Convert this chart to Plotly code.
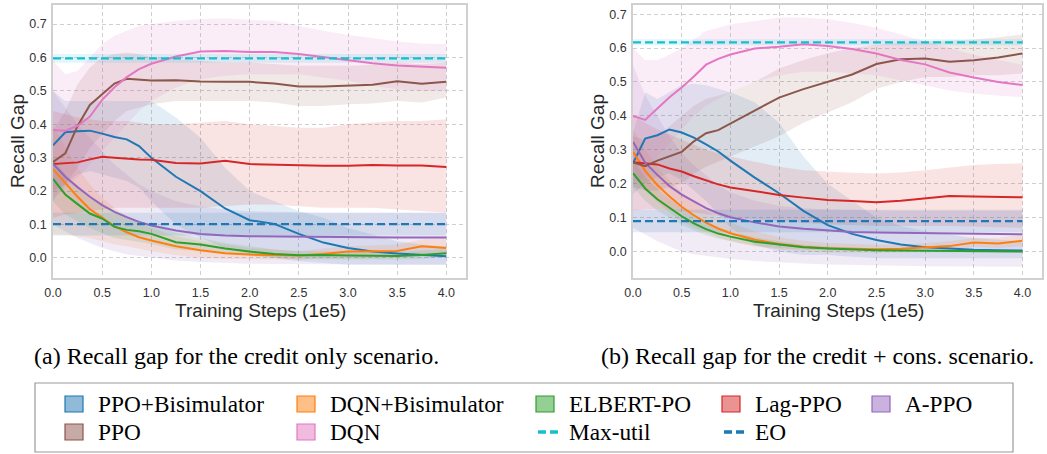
import plotly.graph_objects as go

W, H = 1047, 454

steps = [0, 0.125, 0.25, 0.375, 0.5, 0.625, 0.75, 0.875, 1.0, 1.25, 1.5, 1.75,
         2.0, 2.25, 2.5, 2.75, 3.0, 3.25, 3.5, 3.75, 4.0]
x_ticks = [0.0, 0.5, 1.0, 1.5, 2.0, 2.5, 3.0, 3.5, 4.0]
y_ticks = [0.0, 0.1, 0.2, 0.3, 0.4, 0.5, 0.6, 0.7]

# ---------------- (a) credit only ----------------
ppo_bisim_a = [0.337, 0.376, 0.379, 0.381, 0.372, 0.362, 0.355, 0.335, 0.300, 0.243, 0.200, 0.148, 0.113, 0.102, 0.072, 0.046, 0.030, 0.019, 0.013, 0.008, 0.005]
ppo_bisim_a_hi = [0.50, 0.47, 0.47, 0.47, 0.47, 0.47, 0.47, 0.47, 0.47, 0.42, 0.36, 0.27, 0.20, 0.17, 0.14, 0.12, 0.09, 0.07, 0.05, 0.04, 0.035]
ppo_bisim_a_lo = [0.17, 0.22, 0.25, 0.26, 0.25, 0.24, 0.23, 0.21, 0.17, 0.10, 0.06, 0.03, 0.01, 0.00, -0.01, -0.015, -0.02, -0.02, -0.02, -0.02, -0.02]

dqn_bisim_a = [0.266, 0.224, 0.183, 0.146, 0.120, 0.095, 0.077, 0.062, 0.052, 0.035, 0.023, 0.014, 0.010, 0.008, 0.007, 0.012, 0.019, 0.020, 0.021, 0.035, 0.030]
dqn_bisim_a_hi = [0.40, 0.33, 0.27, 0.22, 0.18, 0.15, 0.125, 0.105, 0.09, 0.065, 0.05, 0.04, 0.03, 0.025, 0.02, 0.028, 0.035, 0.038, 0.04, 0.055, 0.06]
dqn_bisim_a_lo = [0.07, 0.07, 0.065, 0.06, 0.05, 0.04, 0.035, 0.028, 0.02, 0.008, 0.0, -0.003, -0.005, -0.005, -0.005, -0.002, 0.0, 0.0, 0.0, 0.012, 0.01]

elbert_a = [0.237, 0.190, 0.161, 0.133, 0.118, 0.093, 0.084, 0.080, 0.072, 0.047, 0.040, 0.028, 0.019, 0.012, 0.008, 0.009, 0.007, 0.006, 0.006, 0.009, 0.014]
elbert_a_hi = [0.30, 0.25, 0.21, 0.18, 0.16, 0.135, 0.12, 0.11, 0.10, 0.075, 0.06, 0.045, 0.035, 0.025, 0.02, 0.02, 0.018, 0.018, 0.018, 0.022, 0.026]
elbert_a_lo = [0.17, 0.13, 0.11, 0.09, 0.075, 0.06, 0.052, 0.048, 0.042, 0.025, 0.02, 0.012, 0.005, 0.0, -0.004, -0.003, -0.005, -0.005, -0.005, -0.003, 0.002]

lag_a = [0.281, 0.283, 0.286, 0.295, 0.303, 0.300, 0.297, 0.295, 0.294, 0.284, 0.283, 0.291, 0.281, 0.279, 0.277, 0.276, 0.276, 0.278, 0.277, 0.277, 0.272]
lag_a_hi = [0.44, 0.43, 0.42, 0.415, 0.41, 0.41, 0.41, 0.405, 0.40, 0.40, 0.405, 0.41, 0.40, 0.395, 0.39, 0.39, 0.40, 0.405, 0.41, 0.41, 0.415]
lag_a_lo = [0.12, 0.13, 0.135, 0.14, 0.145, 0.15, 0.15, 0.15, 0.15, 0.15, 0.15, 0.155, 0.16, 0.16, 0.155, 0.15, 0.15, 0.15, 0.145, 0.14, 0.135]

appo_a = [0.282, 0.243, 0.212, 0.183, 0.158, 0.138, 0.122, 0.108, 0.097, 0.082, 0.072, 0.067, 0.065, 0.064, 0.063, 0.062, 0.062, 0.061, 0.061, 0.061, 0.061]
appo_a_hi = [0.50, 0.45, 0.40, 0.36, 0.32, 0.28, 0.25, 0.22, 0.20, 0.17, 0.155, 0.145, 0.14, 0.138, 0.136, 0.135, 0.135, 0.135, 0.135, 0.135, 0.135]
appo_a_lo = [0.10, 0.08, 0.06, 0.045, 0.03, 0.02, 0.01, 0.005, 0.0, -0.008, -0.012, -0.015, -0.017, -0.018, -0.019, -0.02, -0.02, -0.02, -0.02, -0.02, -0.02]

ppo_a = [0.287, 0.313, 0.395, 0.458, 0.490, 0.522, 0.536, 0.533, 0.531, 0.532, 0.528, 0.527, 0.527, 0.522, 0.513, 0.513, 0.515, 0.518, 0.529, 0.521, 0.527]
ppo_a_hi = [0.38, 0.44, 0.52, 0.57, 0.60, 0.61, 0.615, 0.61, 0.60, 0.595, 0.59, 0.585, 0.585, 0.58, 0.575, 0.575, 0.575, 0.578, 0.585, 0.58, 0.585]
ppo_a_lo = [0.20, 0.22, 0.27, 0.33, 0.37, 0.41, 0.44, 0.45, 0.46, 0.47, 0.47, 0.47, 0.47, 0.465, 0.455, 0.455, 0.46, 0.462, 0.47, 0.465, 0.48]

dqn_a = [0.383, 0.381, 0.395, 0.423, 0.473, 0.511, 0.541, 0.565, 0.581, 0.603, 0.618, 0.619, 0.616, 0.616, 0.610, 0.601, 0.591, 0.583, 0.576, 0.572, 0.569]
dqn_a_hi = [0.59, 0.55, 0.56, 0.60, 0.64, 0.665, 0.68, 0.695, 0.70, 0.71, 0.715, 0.717, 0.713, 0.71, 0.695, 0.68, 0.668, 0.658, 0.648, 0.642, 0.64]
dqn_a_lo = [0.18, 0.21, 0.24, 0.28, 0.32, 0.36, 0.40, 0.44, 0.47, 0.51, 0.535, 0.545, 0.55, 0.55, 0.55, 0.54, 0.53, 0.515, 0.505, 0.50, 0.50]

maxutil_a = 0.597
maxutil_a_band = [0.584, 0.610]
eo_a = 0.101
eo_a_band = [0.067, 0.135]

# ---------------- (b) credit + cons. ----------------
ppo_bisim_b = [0.260, 0.333, 0.343, 0.360, 0.351, 0.336, 0.316, 0.295, 0.268, 0.218, 0.172, 0.120, 0.078, 0.052, 0.034, 0.021, 0.013, 0.008, 0.005, 0.004, 0.003]
ppo_bisim_b_hi = [0.35, 0.47, 0.45, 0.47, 0.49, 0.495, 0.49, 0.48, 0.47, 0.44, 0.38, 0.28, 0.20, 0.15, 0.10, 0.075, 0.06, 0.05, 0.04, 0.035, 0.03]
ppo_bisim_b_lo = [0.17, 0.20, 0.22, 0.23, 0.21, 0.18, 0.15, 0.11, 0.07, 0.02, 0.0, -0.01, -0.01, -0.015, -0.02, -0.02, -0.02, -0.02, -0.02, -0.02, -0.02]

dqn_bisim_b = [0.294, 0.238, 0.196, 0.162, 0.132, 0.107, 0.085, 0.068, 0.054, 0.035, 0.022, 0.014, 0.010, 0.008, 0.007, 0.008, 0.012, 0.016, 0.027, 0.024, 0.032]
dqn_bisim_b_hi = [0.36, 0.30, 0.25, 0.21, 0.175, 0.145, 0.12, 0.10, 0.085, 0.06, 0.042, 0.032, 0.025, 0.022, 0.02, 0.02, 0.025, 0.03, 0.04, 0.04, 0.05]
dqn_bisim_b_lo = [0.23, 0.18, 0.145, 0.115, 0.09, 0.07, 0.055, 0.042, 0.03, 0.015, 0.006, 0.0, -0.003, -0.004, -0.004, -0.003, 0.0, 0.004, 0.014, 0.01, 0.016]

elbert_b = [0.231, 0.186, 0.154, 0.128, 0.104, 0.083, 0.066, 0.053, 0.044, 0.029, 0.020, 0.013, 0.009, 0.006, 0.004, 0.003, 0.002, 0.001, 0.001, 0.000, 0.000]
elbert_b_hi = [0.27, 0.22, 0.185, 0.155, 0.13, 0.105, 0.085, 0.07, 0.06, 0.042, 0.03, 0.02, 0.015, 0.011, 0.008, 0.007, 0.006, 0.005, 0.005, 0.004, 0.004]
elbert_b_lo = [0.19, 0.15, 0.12, 0.10, 0.08, 0.062, 0.048, 0.038, 0.03, 0.017, 0.01, 0.006, 0.003, 0.001, 0.0, -0.001, -0.002, -0.003, -0.003, -0.004, -0.004]

lag_b = [0.263, 0.260, 0.257, 0.245, 0.236, 0.222, 0.210, 0.198, 0.189, 0.178, 0.167, 0.159, 0.152, 0.149, 0.145, 0.150, 0.157, 0.164, 0.162, 0.161, 0.160]
lag_b_hi = [0.40, 0.38, 0.36, 0.345, 0.33, 0.315, 0.30, 0.29, 0.28, 0.265, 0.25, 0.24, 0.235, 0.232, 0.23, 0.233, 0.24, 0.248, 0.255, 0.258, 0.26]
lag_b_lo = [0.12, 0.125, 0.125, 0.122, 0.12, 0.115, 0.11, 0.105, 0.10, 0.095, 0.09, 0.085, 0.08, 0.078, 0.075, 0.075, 0.075, 0.075, 0.075, 0.072, 0.07]

appo_b = [0.324, 0.262, 0.226, 0.193, 0.168, 0.147, 0.128, 0.113, 0.101, 0.086, 0.074, 0.067, 0.062, 0.058, 0.056, 0.055, 0.054, 0.053, 0.052, 0.052, 0.051]
appo_b_hi = [0.55, 0.46, 0.40, 0.34, 0.29, 0.255, 0.225, 0.195, 0.175, 0.15, 0.135, 0.128, 0.124, 0.122, 0.12, 0.12, 0.12, 0.12, 0.12, 0.12, 0.12]
appo_b_lo = [0.07, 0.05, 0.03, 0.015, 0.0, -0.008, -0.014, -0.018, -0.022, -0.028, -0.032, -0.035, -0.038, -0.04, -0.041, -0.042, -0.043, -0.044, -0.044, -0.045, -0.045]

ppo_b = [0.263, 0.252, 0.268, 0.280, 0.294, 0.325, 0.349, 0.358, 0.377, 0.415, 0.454, 0.479, 0.500, 0.522, 0.553, 0.567, 0.569, 0.560, 0.564, 0.572, 0.584]
ppo_b_hi = [0.34, 0.33, 0.34, 0.37, 0.40, 0.43, 0.45, 0.46, 0.47, 0.50, 0.54, 0.565, 0.585, 0.60, 0.61, 0.615, 0.62, 0.622, 0.625, 0.632, 0.64]
ppo_b_lo = [0.19, 0.18, 0.18, 0.19, 0.20, 0.23, 0.25, 0.265, 0.28, 0.31, 0.34, 0.38, 0.41, 0.44, 0.48, 0.50, 0.515, 0.515, 0.52, 0.52, 0.525]

dqn_b = [0.400, 0.388, 0.422, 0.455, 0.484, 0.516, 0.551, 0.568, 0.581, 0.599, 0.604, 0.611, 0.606, 0.597, 0.584, 0.565, 0.552, 0.528, 0.513, 0.500, 0.491]
dqn_b_hi = [0.60, 0.565, 0.565, 0.58, 0.60, 0.625, 0.65, 0.66, 0.67, 0.68, 0.69, 0.69, 0.685, 0.675, 0.66, 0.64, 0.62, 0.60, 0.58, 0.565, 0.55]
dqn_b_lo = [0.20, 0.22, 0.28, 0.32, 0.36, 0.40, 0.43, 0.45, 0.47, 0.50, 0.52, 0.53, 0.53, 0.525, 0.52, 0.505, 0.49, 0.475, 0.465, 0.46, 0.455]

maxutil_b = 0.617
maxutil_b_band = [0.608, 0.626]
eo_b = 0.090
eo_b_band = [0.057, 0.123]

# ---------------- styling ----------------
names = ["PPO+Bisimulator", "DQN+Bisimulator", "ELBERT-PO", "Lag-PPO", "A-PPO", "PPO", "DQN"]
colors = ["#1f77b4", "#ff7f0e", "#2ca02c", "#d62728", "#9467bd", "#8c564b", "#e377c2"]
ref_names = ["Max-util", "EO"]
ref_colors = ["#17becf", "#1f77b4"]

panel_a = [(ppo_bisim_a, ppo_bisim_a_lo, ppo_bisim_a_hi), (dqn_bisim_a, dqn_bisim_a_lo, dqn_bisim_a_hi),
           (elbert_a, elbert_a_lo, elbert_a_hi), (lag_a, lag_a_lo, lag_a_hi),
           (appo_a, appo_a_lo, appo_a_hi), (ppo_a, ppo_a_lo, ppo_a_hi), (dqn_a, dqn_a_lo, dqn_a_hi)]
panel_b = [(ppo_bisim_b, ppo_bisim_b_lo, ppo_bisim_b_hi), (dqn_bisim_b, dqn_bisim_b_lo, dqn_bisim_b_hi),
           (elbert_b, elbert_b_lo, elbert_b_hi), (lag_b, lag_b_lo, lag_b_hi),
           (appo_b, appo_b_lo, appo_b_hi), (ppo_b, ppo_b_lo, ppo_b_hi), (dqn_b, dqn_b_lo, dqn_b_hi)]
refs_a = [(maxutil_a, maxutil_a_band), (eo_a, eo_a_band)]
refs_b = [(maxutil_b, maxutil_b_band), (eo_b, eo_b_band)]


def rgba(hexc, a):
    h = hexc.lstrip("#")
    r, g, b = int(h[0:2], 16), int(h[2:4], 16), int(h[4:6], 16)
    return f"rgba({r},{g},{b},{a})"


fig = go.Figure()
x_end = [steps[0], steps[-1]]

for panel, refs, xa, ya in [(panel_a, refs_a, "x", "y"), (panel_b, refs_b, "x2", "y2")]:
    # bands
    for (mean, lo, hi), c in zip(panel, colors):
        fig.add_trace(go.Scatter(x=steps + steps[::-1], y=hi + lo[::-1], fill="toself",
                                 fillcolor=rgba(c, 0.13), line=dict(width=0), mode="lines",
                                 hoverinfo="skip", showlegend=False, xaxis=xa, yaxis=ya))
    for (val, band), c in zip(refs, ref_colors):
        fig.add_trace(go.Scatter(x=x_end + x_end[::-1], y=[band[1], band[1], band[0], band[0]],
                                 fill="toself", fillcolor=rgba(c, 0.13), line=dict(width=0),
                                 mode="lines", hoverinfo="skip", showlegend=False, xaxis=xa, yaxis=ya))
    # mean lines
    for (mean, lo, hi), c, n in zip(panel, colors, names):
        fig.add_trace(go.Scatter(x=steps, y=mean, mode="lines", name=n,
                                 line=dict(color=c, width=2), showlegend=False, xaxis=xa, yaxis=ya))
    for (val, band), c, n in zip(refs, ref_colors, ref_names):
        fig.add_trace(go.Scatter(x=x_end, y=[val, val], mode="lines", name=n,
                                 line=dict(color=c, width=2.2, dash="8px,4px"),
                                 showlegend=False, xaxis=xa, yaxis=ya))

TICKFONT = dict(family="Liberation Sans, Arial", size=12.5, color="#333333")
axis_common = dict(showgrid=True, gridcolor="#cfcfcf", griddash="4px,3px", gridwidth=1,
                   showline=True, linecolor="#d0d0d0", linewidth=1.5, mirror=True,
                   zeroline=False, ticks="", tickfont=TICKFONT, automargin=False)

ydom = [1 - 278 / H, 1 - 5 / H]
fig.update_layout(
    width=W, height=H, margin=dict(l=0, r=0, t=0, b=0, autoexpand=False),
    paper_bgcolor="white", plot_bgcolor="white", showlegend=False,
    xaxis=dict(domain=[53 / W, 466 / W], range=[0, 4.2], tickvals=x_ticks,
               ticktext=[f"{v:.1f}" for v in x_ticks], anchor="y", ticklabelstandoff=2, **axis_common),
    yaxis=dict(domain=ydom, range=[-0.06, 0.757], tickvals=y_ticks,
               ticktext=[f"{v:.1f}" for v in y_ticks], anchor="x", ticklabelstandoff=2, **axis_common),
    xaxis2=dict(domain=[633 / W, 1042 / W], range=[0, 4.2], tickvals=x_ticks,
                ticktext=[f"{v:.1f}" for v in x_ticks], anchor="y2", ticklabelstandoff=2, **axis_common),
    yaxis2=dict(domain=ydom, range=[-0.078, 0.727], tickvals=y_ticks,
                ticktext=[f"{v:.1f}" for v in y_ticks], anchor="x2", ticklabelstandoff=2, **axis_common),
)


def px(xp):
    return xp / W


def py(yp):
    return 1 - yp / H


ann = []
shapes = []
TITLEFONT = dict(family="Liberation Sans, Arial", size=19, color="#262626")
for cx, ycx in [(260, 17), (838, 597)]:
    ann.append(dict(text="Training Steps (1e5)", x=px(cx), y=py(310), xref="paper", yref="paper",
                    showarrow=False, font=TITLEFONT, xanchor="center", yanchor="middle"))
    ann.append(dict(text="Recall Gap", x=px(ycx), y=py(141), xref="paper", yref="paper",
                    showarrow=False, font=TITLEFONT, textangle=-90, xanchor="center", yanchor="middle"))

CAPFONT = dict(family="Liberation Serif, Times New Roman, serif", size=24, color="black")
ann.append(dict(text="(a) Recall gap for the credit only scenario.", x=px(236), y=py(356),
                xref="paper", yref="paper", showarrow=False, font=CAPFONT, xanchor="center", yanchor="middle"))
ann.append(dict(text="(b) Recall gap for the credit + cons. scenario.", x=px(817), y=py(356),
                xref="paper", yref="paper", showarrow=False, font=CAPFONT, xanchor="center", yanchor="middle"))

# legend box
shapes.append(dict(type="rect", xref="paper", yref="paper", x0=px(35), x1=px(1013), y0=py(452), y1=py(383),
                   line=dict(color="#9a9a9a", width=1.2), fillcolor="white", layer="above"))
col_x = [96, 328, 567, 753, 903]
row_y = [404, 432]
LEGFONT = dict(family="Liberation Serif, Times New Roman, serif", size=23.3, color="black")
items = list(zip(names, colors, ["patch"] * 7)) + list(zip(ref_names, ref_colors, ["dash"] * 2))
for i, (n, c, kind) in enumerate(items):
    tx = col_x[i % 5]
    ry = row_y[i // 5]
    if kind == "patch":
        shapes.append(dict(type="rect", xref="paper", yref="paper", x0=px(tx - 31), x1=px(tx - 13),
                           y0=py(ry + 8), y1=py(ry - 8), fillcolor=rgba(c, 0.5),
                           line=dict(color=c, width=1.2), layer="above"))
    else:
        shapes.append(dict(type="line", xref="paper", yref="paper", x0=px(tx - 29), x1=px(tx - 6),
                           y0=py(ry), y1=py(ry), line=dict(color=c, width=3.5, dash="8px,4px"),
                           layer="above"))
    ann.append(dict(text=n, x=px(tx), y=py(ry), xref="paper", yref="paper", showarrow=False,
                    font=LEGFONT, xanchor="left", yanchor="middle"))

fig.update_layout(annotations=ann, shapes=shapes)
fig.write_html("out.html", config={"displayModeBar": False},
               post_script="document.body.style.margin='0';document.body.style.overflow='hidden';")
